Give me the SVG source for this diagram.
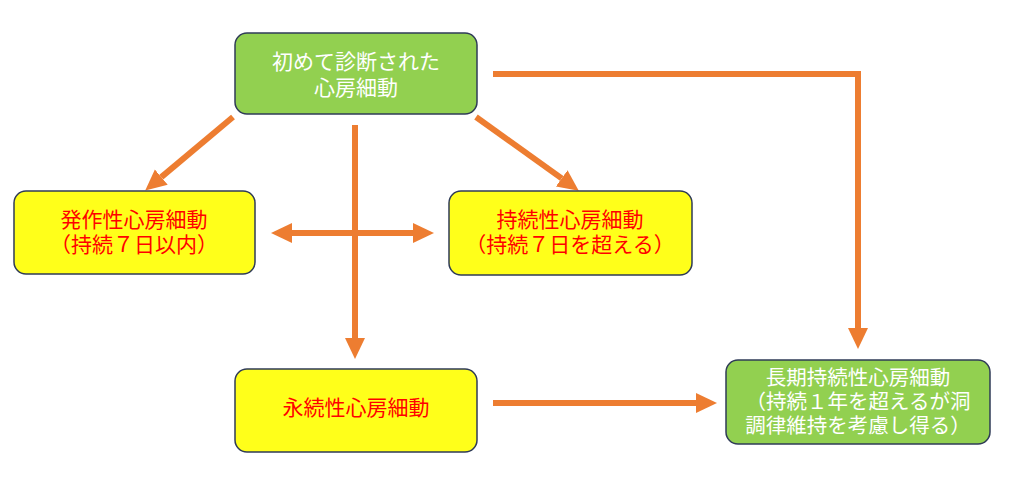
<svg xmlns="http://www.w3.org/2000/svg" width="1024" height="493" viewBox="0 0 1024 493">
<style>
.box{stroke:#2f3b57;stroke-width:1.5}
.g{fill:#92d050}
.y{fill:#ffff1a}
.t{font-family:"Noto Sans CJK JP","Liberation Sans",sans-serif;font-size:21px;text-anchor:middle}
.s{font-size:20.5px}
.w{fill:#ffffff}
.r{fill:#ff0000}
.a{stroke:#ed7d31;stroke-width:6;fill:none}
</style>
<defs>
<marker id="ah" markerUnits="userSpaceOnUse" markerWidth="22" markerHeight="22" refX="0" refY="10" orient="auto-start-reverse" viewBox="0 0 22 20">
<path d="M0,0 L21,10 L0,20 z" fill="#ed7d31"/>
</marker>
</defs>
<rect width="1024" height="493" fill="#ffffff"/>
<g id="connectors">
<line class="a" x1="233" y1="117" x2="161.3" y2="177.1" marker-end="url(#ah)"/>
<line class="a" x1="476" y1="117" x2="561.7" y2="178.4" marker-end="url(#ah)"/>
<line class="a" x1="355" y1="125" x2="355" y2="338" marker-end="url(#ah)"/>
<line class="a" x1="292" y1="233" x2="413" y2="233" marker-start="url(#ah)" marker-end="url(#ah)"/>
<line class="a" x1="493" y1="403" x2="696" y2="403" marker-end="url(#ah)"/>
<path class="a" d="M493,74 H858 V328" marker-end="url(#ah)"/>
</g>
<g id="node-first">
<rect class="box g" x="235" y="33" width="242" height="81" rx="12"/>
<text class="t w" x="356" y="69">初めて診断された<tspan x="356" y="95">心房細動</tspan></text>
</g>
<g id="node-paroxysmal">
<rect class="box y" x="14" y="191" width="241" height="83" rx="12"/>
<text class="t r" x="134" y="227">発作性心房細動<tspan x="134" y="252">（持続７日以内）</tspan></text>
</g>
<g id="node-persistent">
<rect class="box y" x="449" y="191" width="243" height="84" rx="12"/>
<text class="t r" x="570" y="227">持続性心房細動<tspan x="570" y="252">（持続７日を超える）</tspan></text>
</g>
<g id="node-permanent">
<rect class="box y" x="235" y="369" width="242" height="83" rx="12"/>
<text class="t r" x="356" y="415">永続性心房細動</text>
</g>
<g id="node-longstanding">
<rect class="box g" x="726" y="360" width="264" height="84" rx="12"/>
<text class="t s w" x="858" y="385">長期持続性心房細動<tspan x="858" y="409">（持続１年を超えるが洞</tspan><tspan x="858" y="433">調律維持を考慮し得る）</tspan></text>
</g>
</svg>
